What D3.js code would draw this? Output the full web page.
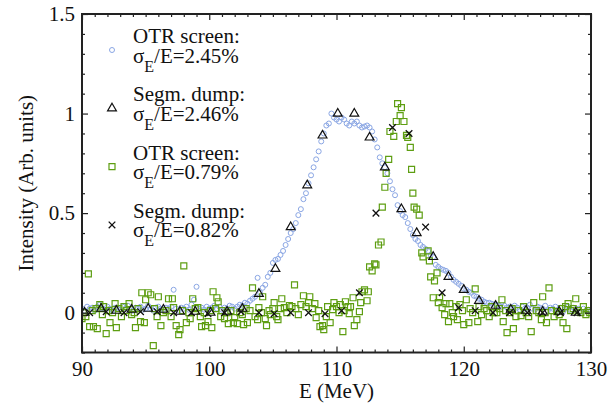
<!DOCTYPE html>
<html>
<head>
<meta charset="utf-8">
<script src="https://cdn.jsdelivr.net/npm/d3@7"></script>
<style>
  html, body { margin: 0; padding: 0; background: #fff; }
  svg text { font-family: "Liberation Serif", "Times New Roman", serif; fill: #111; }
</style>
</head>
<body>
<svg id="chart" width="616" height="407"></svg>
<script>
// Energy spectra, OTR screen vs segmented dump, broad and narrow beams.
// [E (MeV), intensity (arb. units)]
const otrWide = [
  [90.0,0.02],[90.2,0.01],[90.4,0.03],[90.6,0.02],[90.8,0.025],[91.0,0.01],[91.2,0.03],[91.4,0.04],[91.6,0.02],[91.8,0.015],
  [92.0,0.03],[92.2,0.02],[92.4,0.01],[92.6,0.025],[92.8,0.02],[93.0,0.015],[93.2,0.03],[93.4,0.02],[93.6,0.035],[93.8,0.02],
  [94.0,0.01],[94.2,0.025],[94.4,0.02],[94.6,0.03],[94.8,0.015],[95.0,0.02],[95.2,0.035],[95.4,0.02],[95.6,0.01],[95.8,0.025],
  [96.0,0.03],[96.2,0.02],[96.4,0.015],[96.6,0.025],[96.8,0.02],[97.0,0.03],[97.2,0.115],[97.4,0.02],[97.6,0.01],[97.8,0.025],
  [98.0,0.02],[98.2,0.03],[98.4,0.015],[98.6,0.04],[98.8,0.065],[99.0,0.13],[99.2,0.02],[99.4,0.025],[99.6,0.015],[99.8,0.03],
  [100.0,0.02],[100.2,0.025],[100.4,0.035],[100.6,0.02],[100.8,0.03],[101.0,0.015],[101.2,0.025],[101.4,0.02],[101.6,0.035],[101.8,0.03],
  [102.0,0.02],[102.2,0.03],[102.4,0.04],[102.6,0.035],[102.8,0.05],[103.0,0.045],[103.2,0.06],[103.4,0.07],[103.6,0.08],[103.8,0.175],
  [104.0,0.1],[104.2,0.125],[104.4,0.14],[104.6,0.18],[104.8,0.2],[105.0,0.25],[105.2,0.265],[105.4,0.27],[105.6,0.29],[105.8,0.31],
  [106.0,0.34],[106.2,0.37],[106.4,0.40],[106.6,0.42],[106.8,0.45],[107.0,0.49],[107.2,0.52],[107.4,0.57],[107.6,0.60],[107.8,0.65],
  [108.0,0.69],[108.2,0.73],[108.4,0.77],[108.6,0.81],[108.8,0.86],[109.0,0.90],[109.2,0.94],[109.4,0.95],[109.6,1.00],[109.8,0.98],
  [110.0,0.97],[110.2,0.96],[110.4,0.98],[110.6,0.97],[110.8,0.95],[111.0,0.94],[111.2,0.96],[111.4,0.95],[111.6,0.96],[111.8,0.94],
  [112.0,0.93],[112.2,0.935],[112.4,0.94],[112.6,0.93],[112.8,0.91],[113.0,0.87],[113.2,0.83],[113.4,0.78],[113.6,0.75],[113.8,0.73],
  [114.0,0.70],[114.2,0.66],[114.4,0.62],[114.6,0.59],[114.8,0.54],[115.0,0.51],[115.2,0.49],[115.4,0.48],[115.6,0.45],[115.8,0.42],
  [116.0,0.39],[116.2,0.37],[116.4,0.36],[116.6,0.34],[116.8,0.33],[117.0,0.32],[117.2,0.31],[117.4,0.29],[117.6,0.28],[117.8,0.24],
  [118.0,0.23],[118.2,0.22],[118.4,0.215],[118.6,0.21],[118.8,0.20],[119.0,0.18],[119.2,0.165],[119.4,0.155],[119.6,0.145],[119.8,0.135],
  [120.0,0.12],[120.2,0.115],[120.4,0.105],[120.6,0.10],[120.8,0.085],[121.0,0.08],[121.2,0.07],[121.4,0.065],[121.6,0.055],[121.8,0.05],
  [122.0,0.05],[122.2,0.045],[122.4,0.04],[122.6,0.04],[122.8,0.035],[123.0,0.03],[123.2,0.035],[123.4,0.025],[123.6,0.03],[123.8,0.02],
  [124.0,0.035],[124.2,0.025],[124.4,0.015],[124.6,0.03],[124.8,0.02],[125.0,0.025],[125.2,0.04],[125.4,0.02],[125.6,0.015],[125.8,0.03],
  [126.0,0.025],[126.2,0.02],[126.4,0.035],[126.6,0.01],[126.8,0.025],[127.0,0.02],[127.2,0.03],[127.4,0.015],[127.6,0.025],[127.8,0.005],
  [128.0,0.02],[128.2,0.03],[128.4,0.01],[128.6,0.025],[128.8,0.015],[129.0,0.02],[129.2,0.005],[129.4,0.02],[129.6,0.01],[129.8,0.015],
  [130.0,0.01]
];

const dumpWide = [
  [90.2,0.0],[91.5,0.02],[92.7,0.01],[93.9,0.015],[95.2,0.02],[96.4,0.015],[97.7,0.005],[98.9,0.005],[100.1,0.0],[101.4,0.005],
  [102.6,0.02],[103.9,0.095],[105.2,0.22],[106.4,0.43],[107.7,0.64],[108.9,0.89],[110.1,1.0],[111.4,1.0],[112.6,0.88],[113.8,0.73],
  [115.1,0.52],[116.3,0.40],[117.6,0.28],[118.8,0.18],[120.0,0.115],[121.2,0.06],[122.5,0.035],[123.7,0.015],[124.9,0.01],[126.2,0.005],
  [127.5,0.005],[128.8,0.0]
];

const otrNarrow = [
  [90.0,-0.03],[90.1,0.0],[90.3,-0.02],[90.5,0.195],[90.6,-0.07],[90.8,0.01],[90.9,-0.07],[91.1,0.02],[91.2,-0.08],[91.4,0.04],
  [91.6,-0.01],[91.7,0.03],[91.9,-0.105],[92.1,0.01],[92.2,-0.05],[92.4,0.0],[92.6,0.045],[92.7,-0.075],[92.9,0.02],[93.1,-0.02],
  [93.3,0.03],[93.5,0.01],[93.7,0.045],[93.9,-0.01],[94.1,0.0],[94.2,-0.075],[94.4,0.02],[94.6,-0.045],[94.7,0.10],[94.9,-0.05],
  [95.0,0.065],[95.2,0.10],[95.4,0.09],[95.6,-0.165],[95.7,0.02],[95.9,-0.02],[96.0,0.08],[96.2,-0.065],[96.4,0.0],[96.6,0.01],
  [96.8,0.07],[97.0,-0.02],[97.1,0.07],[97.2,0.025],[97.4,-0.065],[97.6,-0.11],[97.7,-0.085],[97.9,0.01],[98.0,0.235],[98.2,-0.05],
  [98.4,0.0],[98.5,-0.03],[98.7,0.07],[98.9,0.02],[99.1,0.025],[99.3,-0.02],[99.4,-0.07],[99.6,0.0],[99.7,-0.065],[99.9,-0.045],
  [100.1,0.01],[100.2,-0.075],[100.3,0.105],[100.5,0.02],[100.6,0.075],[100.7,0.055],[100.9,-0.02],[101.0,0.01],[101.2,-0.03],[101.4,0.0],
  [101.5,-0.055],[101.7,0.01],[101.9,-0.05],[102.0,-0.025],[102.2,-0.055],[102.4,0.0],[102.6,-0.01],[102.7,-0.06],[102.9,0.02],[103.0,-0.05],
  [103.2,0.01],[103.4,0.125],[103.6,-0.02],[103.8,-0.035],[103.9,0.025],[104.1,0.0],[104.2,0.08],[104.4,-0.03],[104.5,-0.065],[104.7,0.01],
  [104.8,-0.01],[105.0,0.02],[105.1,0.05],[105.3,-0.02],[105.4,-0.035],[105.6,0.02],[105.7,0.07],[105.9,0.025],[106.1,0.0],[106.3,0.035],
  [106.5,0.03],[106.7,0.14],[106.8,0.02],[107.0,-0.01],[107.2,0.04],[107.4,0.085],[107.6,0.03],[107.8,0.05],[107.9,0.08],[108.1,0.02],
  [108.3,0.045],[108.4,-0.025],[108.6,0.01],[108.7,-0.07],[108.9,-0.065],[109.0,-0.085],[109.2,-0.02],[109.3,0.03],[109.5,-0.05],[109.7,0.015],
  [109.8,0.05],[110.0,0.03],[110.2,0.0],[110.3,0.04],[110.5,-0.095],[110.6,0.01],[110.7,0.055],[110.9,0.03],[111.0,-0.005],[111.1,0.03],
  [111.3,0.075],[111.4,-0.065],[111.6,-0.035],[111.8,0.005],[111.9,0.05],[112.0,0.105],[112.2,0.115],[112.4,0.06],[112.5,0.105],[112.6,0.23],
  [112.8,0.21],[113.0,0.245],[113.1,0.24],[113.3,0.34],[113.5,0.355],[113.6,0.53],[113.8,0.63],[113.9,0.70],[114.1,0.77],[114.2,0.91],
  [114.5,0.885],[114.7,0.96],[114.8,1.05],[115.0,0.99],[115.1,1.03],[115.3,0.96],[115.5,0.89],[115.6,0.88],[115.8,0.83],[115.9,0.72],
  [116.0,0.60],[116.1,0.53],[116.3,0.52],[116.5,0.49],[116.7,0.30],[116.8,0.28],[117.2,0.31],[117.3,0.26],[117.4,0.18],[117.6,0.075],
  [117.7,0.16],[117.9,0.20],[118.0,0.05],[118.1,0.075],[118.3,0.025],[118.5,-0.01],[118.6,0.045],[118.8,-0.045],[118.9,0.045],[119.1,0.0],
  [119.2,-0.02],[119.4,0.03],[119.5,-0.035],[119.7,0.04],[119.9,0.01],[120.0,-0.06],[120.2,0.065],[120.4,-0.05],[120.5,0.02],[120.7,0.0],
  [120.9,0.12],[121.1,-0.045],[121.2,0.03],[121.4,-0.01],[121.6,0.02],[121.8,0.01],[122.0,-0.02],[122.2,0.03],[122.4,0.0],[122.6,0.0],
  [122.8,0.02],[123.0,0.065],[123.1,-0.045],[123.3,0.01],[123.4,-0.10],[123.6,0.0],[123.8,0.02],[123.9,-0.08],[124.1,-0.02],[124.3,0.01],
  [124.5,-0.015],[124.7,0.03],[124.9,0.0],[125.1,-0.02],[125.3,-0.095],[125.5,0.05],[125.7,0.01],[125.9,0.0],[126.1,-0.035],[126.2,0.08],
  [126.4,0.0],[126.5,-0.05],[126.7,0.125],[126.9,0.01],[127.1,-0.02],[127.3,0.005],[127.5,-0.01],[127.7,0.02],[127.8,-0.05],[128.0,0.03],
  [128.1,-0.08],[128.2,0.045],[128.4,0.01],[128.6,0.02],[128.8,0.07],[129.0,0.01],[129.2,0.0],[129.4,0.03],[129.6,-0.01],[129.8,0.01],
  [129.9,0.0]
];

const dumpNarrow = [
  [90.6,0.0],[91.9,0.005],[93.3,0.0],[94.6,0.005],[95.9,0.005],[97.2,0.0],[98.6,0.0],[99.9,-0.005],[101.2,0.0],[102.5,0.005],
  [103.9,0.0],[105.1,-0.005],[106.4,0.0],[107.8,0.0],[109.1,-0.005],[110.4,0.01],[111.8,0.10],[113.1,0.50],[114.4,0.93],[115.7,0.90],
  [117.0,0.43],[118.3,0.10],[119.6,0.025],[120.9,0.01],[122.3,0.0],[123.6,0.0],[125.0,0.0],[126.2,0.0],[127.6,0.0],[128.9,0.0]
];

const xMajorTicks = [90, 100, 110, 120, 130];
const yMajorTicks = [0, 0.5, 1, 1.5];
const yTickLabels = ["0", "0.5", "1", "1.5"];

const legendEntries = [
  { title: "OTR screen:", value: "2.45%", kind: "circle" },
  { title: "Segm. dump:", value: "2.46%", kind: "triangle" },
  { title: "OTR screen:", value: "0.79%", kind: "square" },
  { title: "Segm. dump:", value: "0.82%", kind: "cross" }
];

const colors = { circle: "#8aa6e4", triangle: "#111111", square: "#5e9e12", cross: "#111111" };

const svg = d3.select("#chart");
const plotL = 82, plotR = 591, plotT = 14, plotB = 352.5;

const x = d3.scaleLinear().domain([90, 130]).range([plotL, plotR]);
const y = d3.scaleLinear().domain([-0.2, 1.5]).range([plotB, plotT]);

// marker shapes
const triPath = d3.symbol(d3.symbolTriangle, 34)();
const markerPath = {
  circle: null,
  triangle: triPath,
  square: "M-3,-3H3V3H-3Z",
  cross: "M-3.3,-3.3L3.3,3.3M3.3,-3.3L-3.3,3.3"
};

function drawMarkers(g, data, kind) {
  if (kind === "circle") {
    g.selectAll("circle").data(data).join("circle")
      .attr("cx", d => x(d[0])).attr("cy", d => y(d[1])).attr("r", 2.5)
      .attr("fill", "none").attr("stroke", colors.circle).attr("stroke-width", 1);
  } else {
    g.selectAll("path").data(data).join("path")
      .attr("transform", d => `translate(${x(d[0])},${y(d[1])})`)
      .attr("d", markerPath[kind])
      .attr("fill", "none").attr("stroke", colors[kind])
      .attr("stroke-width", kind === "cross" ? 1.3 : 1.2);
  }
}

// clip markers to the plot frame
svg.append("defs").append("clipPath").attr("id", "plotClip")
  .append("rect").attr("x", plotL).attr("y", plotT).attr("width", plotR - plotL).attr("height", plotB - plotT);

const plot = svg.append("g").attr("clip-path", "url(#plotClip)");
drawMarkers(plot.append("g"), otrWide, "circle");
drawMarkers(plot.append("g"), otrNarrow, "square");
drawMarkers(plot.append("g"), dumpWide, "triangle");
drawMarkers(plot.append("g"), dumpNarrow, "cross");

// axes: inward ticks on all four sides
const xMinor = d3.range(91, 130, 1).filter(v => v % 10 !== 0);
const yMinor = d3.range(-2, 15, 1).filter(v => v % 5 !== 0).map(v => v / 10);

function styleAxis(g) {
  g.select(".domain").remove();
  g.selectAll(".tick line").attr("stroke", "#222").attr("stroke-width", 1.2);
  g.selectAll(".tick text").style("font-size", "21px").attr("fill", "#111");
}

svg.append("g").attr("transform", `translate(0,${plotB})`)
  .call(d3.axisBottom(x).tickValues(xMajorTicks).tickSize(-6).tickPadding(9).tickFormat(d3.format("d")))
  .call(styleAxis);
svg.append("g").attr("transform", `translate(0,${plotB})`)
  .call(d3.axisBottom(x).tickValues(xMinor).tickSize(-3).tickFormat(""))
  .call(styleAxis);
svg.append("g").attr("transform", `translate(0,${plotT})`)
  .call(d3.axisTop(x).tickValues(xMajorTicks).tickSize(-6).tickFormat(""))
  .call(styleAxis);
svg.append("g").attr("transform", `translate(0,${plotT})`)
  .call(d3.axisTop(x).tickValues(xMinor).tickSize(-3).tickFormat(""))
  .call(styleAxis);

svg.append("g").attr("transform", `translate(${plotL},0)`)
  .call(d3.axisLeft(y).tickValues(yMajorTicks).tickSize(-6).tickPadding(7)
    .tickFormat((d, i) => yTickLabels[i]))
  .call(styleAxis);
svg.append("g").attr("transform", `translate(${plotL},0)`)
  .call(d3.axisLeft(y).tickValues(yMinor).tickSize(-3).tickFormat(""))
  .call(styleAxis);
svg.append("g").attr("transform", `translate(${plotR},0)`)
  .call(d3.axisRight(y).tickValues(yMajorTicks).tickSize(-6).tickFormat(""))
  .call(styleAxis);
svg.append("g").attr("transform", `translate(${plotR},0)`)
  .call(d3.axisRight(y).tickValues(yMinor).tickSize(-3).tickFormat(""))
  .call(styleAxis);

// frame
svg.append("rect").attr("x", plotL).attr("y", plotT).attr("width", plotR - plotL).attr("height", plotB - plotT)
  .attr("fill", "none").attr("stroke", "#222").attr("stroke-width", 2);

// axis titles
svg.append("text").attr("x", (plotL + plotR) / 2).attr("y", 398).attr("text-anchor", "middle")
  .style("font-size", "21px").text("E (MeV)");
svg.append("text").attr("transform", `translate(33,${(plotT + plotB) / 2}) rotate(-90)`)
  .attr("text-anchor", "middle").style("font-size", "21px").text("Intensity (Arb. units)");

// legend
const legend = svg.append("g");
legendEntries.forEach((e, i) => {
  const base = 43 + i * 58.3;
  const row = legend.append("g");
  const m = row.append("g").attr("transform", `translate(112,${base + 7})`);
  if (e.kind === "circle") {
    m.append("circle").attr("r", 2.5).attr("fill", "none").attr("stroke", colors.circle).attr("stroke-width", 1);
  } else {
    m.append("path").attr("d", markerPath[e.kind]).attr("fill", "none").attr("stroke", colors[e.kind])
      .attr("stroke-width", e.kind === "cross" ? 1.3 : 1.2);
  }
  row.append("text").attr("x", 133).attr("y", base).style("font-size", "21px").text(e.title);
  const t = row.append("text").attr("x", 133).attr("y", base + 19.5).style("font-size", "21px");
  t.append("tspan").text("\u03C3");
  t.append("tspan").attr("dy", 9).style("font-size", "16px").text("E");
  t.append("tspan").attr("dy", -9).text("/E=" + e.value);
});
</script>
</body>
</html>
